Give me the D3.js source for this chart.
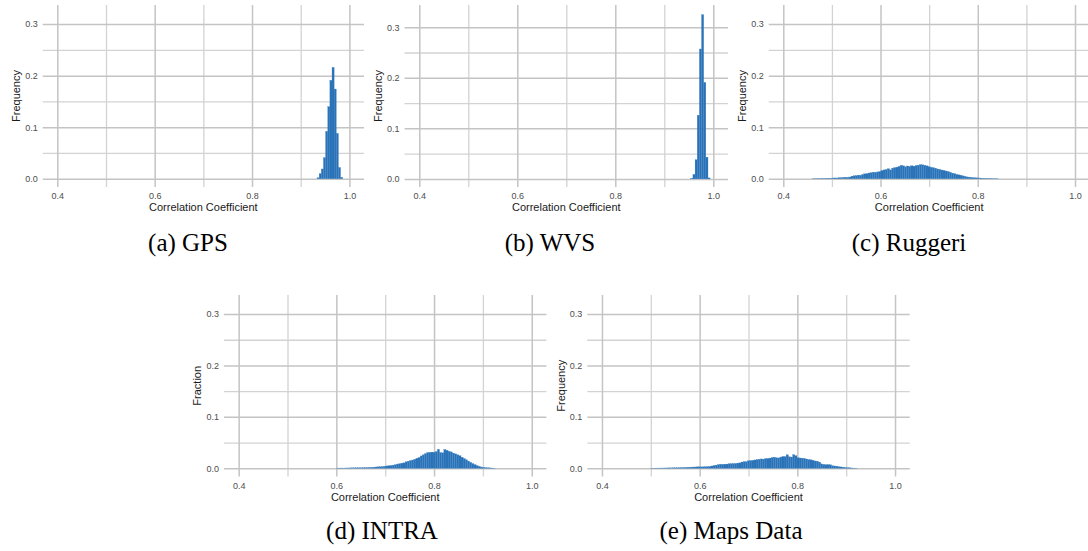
<!DOCTYPE html>
<html>
<head>
<meta charset="utf-8">
<script src="https://cdn.jsdelivr.net/npm/d3@7"></script>
<style>
  body { margin: 0; background: #fff; }
  svg { display: block; }
  .tick text { font-family: "Liberation Sans", Arial, sans-serif; }
</style>
</head>
<body>
<svg id="chart" width="1088" height="551"></svg>
<script>
// histogram bin width (same for every panel)
var binWidth = 0.0044;

// tick values
var xMajor = [0.4, 0.6, 0.8, 1.0];
var xMinor = [0.5, 0.7, 0.9];
var yMajor = [0.0, 0.1, 0.2, 0.3];
var yMinor = [0.05, 0.15, 0.25];

// (a) GPS
var gpsStart = 0.9335;
var gpsFreq = [0.002, 0.010, 0.019, 0.041, 0.092, 0.140, 0.191, 0.216, 0.174, 0.088, 0.022, 0.003];

// (b) WVS
var wvsStart = 0.954;
var wvsFreq = [0.001, 0.009, 0.038, 0.126, 0.257, 0.325, 0.191, 0.043, 0.002];

// (c) Ruggeri
var ruggeriStart = 0.46;
var ruggeriFreq = [
  0.0005, 0.0005, 0.0008, 0.0006, 0.0009, 0.0008, 0.0010, 0.0012, 0.0010, 0.0014,
  0.0016, 0.0015, 0.0022, 0.0020, 0.0028, 0.0030, 0.0027, 0.0034, 0.0050, 0.0058,
  0.0062, 0.0070, 0.0068, 0.0082, 0.0095, 0.0100, 0.0112, 0.0118, 0.0128, 0.0125,
  0.0132, 0.0140, 0.0160, 0.0172, 0.0180, 0.0195, 0.0172, 0.0205, 0.0215, 0.0225,
  0.0240, 0.0262, 0.0250, 0.0232, 0.0248, 0.0240, 0.0252, 0.0245, 0.0258, 0.0262,
  0.0275, 0.0270, 0.0262, 0.0250, 0.0235, 0.0222, 0.0215, 0.0205, 0.0190, 0.0182,
  0.0170, 0.0162, 0.0150, 0.0140, 0.0125, 0.0108, 0.0100, 0.0085, 0.0075, 0.0068,
  0.0055, 0.0045, 0.0035, 0.0032, 0.0025, 0.0020, 0.0018, 0.0015, 0.0014, 0.0012,
  0.0010, 0.0009, 0.0008, 0.0008, 0.0006, 0.0005, 0.0004
];

// (d) INTRA
var intraStart = 0.60;
var intraFreq = [
  0.0004, 0.0004, 0.0005, 0.0004, 0.0006, 0.0006, 0.0007, 0.0008, 0.0008, 0.0009,
  0.0010, 0.0010, 0.0012, 0.0013, 0.0014, 0.0016, 0.0018, 0.0021, 0.0025, 0.0028,
  0.0030, 0.0033, 0.0038, 0.0045, 0.0050, 0.0055, 0.0062, 0.0070, 0.0082, 0.0088,
  0.0098, 0.0105, 0.0125, 0.0138, 0.0150, 0.0160, 0.0175, 0.0195, 0.0210, 0.0240,
  0.0262, 0.0285, 0.0305, 0.0310, 0.0315, 0.0312, 0.0325, 0.0370, 0.0305, 0.0300,
  0.0365, 0.0350, 0.0330, 0.0318, 0.0295, 0.0280, 0.0262, 0.0245, 0.0215, 0.0190,
  0.0165, 0.0140, 0.0115, 0.0092, 0.0072, 0.0052, 0.0038, 0.0025, 0.0018, 0.0012,
  0.0010, 0.0007, 0.0005, 0.0003
];

// (e) Maps Data
var mapsStart = 0.50;
var mapsFreq = [
  0.0003, 0.0003, 0.0004, 0.0004, 0.0005, 0.0005, 0.0006, 0.0006, 0.0008, 0.0007,
  0.0009, 0.0010, 0.0010, 0.0012, 0.0013, 0.0015, 0.0017, 0.0020, 0.0022, 0.0024,
  0.0025, 0.0027, 0.0028, 0.0026, 0.0029, 0.0030, 0.0032, 0.0036, 0.0045, 0.0056,
  0.0062, 0.0072, 0.0078, 0.0076, 0.0080, 0.0082, 0.0088, 0.0090, 0.0092, 0.0094,
  0.0100, 0.0105, 0.0122, 0.0130, 0.0128, 0.0145, 0.0150, 0.0155, 0.0162, 0.0170,
  0.0175, 0.0182, 0.0178, 0.0188, 0.0192, 0.0198, 0.0210, 0.0215, 0.0205, 0.0200,
  0.0218, 0.0230, 0.0228, 0.0262, 0.0222, 0.0218, 0.0265, 0.0245, 0.0205, 0.0200,
  0.0195, 0.0192, 0.0180, 0.0170, 0.0165, 0.0155, 0.0142, 0.0138, 0.0120, 0.0085,
  0.0075, 0.0070, 0.0072, 0.0068, 0.0050, 0.0045, 0.0042, 0.0030, 0.0026, 0.0022,
  0.0015, 0.0012, 0.0009, 0.0006, 0.0004, 0.0003
];

var panels = [
  { caption: "(a) GPS",       ylab: "Frequency", start: gpsStart,     freq: gpsFreq,     left: 42.7,  right: 364,   top: 5,   bottom: 187,   ymax: 0.337, capX: 188, capY: 251 },
  { caption: "(b) WVS",       ylab: "Frequency", start: wvsStart,     freq: wvsFreq,     left: 404.6, right: 728,   top: 5,   bottom: 187,   ymax: 0.344, capX: 550, capY: 251 },
  { caption: "(c) Ruggeri",   ylab: "Frequency", start: ruggeriStart, freq: ruggeriFreq, left: 768.7, right: 1089.6, top: 5,  bottom: 187,   ymax: 0.337, capX: 909, capY: 251 },
  { caption: "(d) INTRA",     ylab: "Fraction",  start: intraStart,   freq: intraFreq,   left: 224,   right: 546.4, top: 295, bottom: 476.5, ymax: 0.337, capX: 382, capY: 539 },
  { caption: "(e) Maps Data", ylab: "Frequency", start: mapsStart,    freq: mapsFreq,    left: 587.3, right: 909.7, top: 295, bottom: 476.5, ymax: 0.337, capX: 731, capY: 539 }
];

var svg = d3.select("#chart");
var barColor = "#2a72b7";

function styleGrid(sel, color, width) {
  sel.select(".domain").remove();
  sel.selectAll("line").attr("stroke", color).attr("stroke-width", width);
}

panels.forEach(function (p) {
  var x = d3.scaleLinear().domain([0.37, 1.03]).range([p.left, p.right]);
  var y = d3.scaleLinear().domain([-0.016, p.ymax]).range([p.bottom, p.top]);
  var h = p.bottom - p.top, w = p.right - p.left;
  var g = svg.append("g");

  // minor grid
  g.append("g").attr("transform", "translate(0," + p.bottom + ")")
    .call(d3.axisBottom(x).tickValues(xMinor).tickSize(-h).tickFormat(""))
    .call(styleGrid, "#d3d3d3", 1.3);
  g.append("g").attr("transform", "translate(" + p.left + ",0)")
    .call(d3.axisLeft(y).tickValues(yMinor).tickSize(-w).tickFormat(""))
    .call(styleGrid, "#d3d3d3", 1.3);

  // major grid
  g.append("g").attr("transform", "translate(0," + p.bottom + ")")
    .call(d3.axisBottom(x).tickValues(xMajor).tickSize(-h).tickFormat(""))
    .call(styleGrid, "#c4c4c4", 1.5);
  g.append("g").attr("transform", "translate(" + p.left + ",0)")
    .call(d3.axisLeft(y).tickValues(yMajor).tickSize(-w).tickFormat(""))
    .call(styleGrid, "#c4c4c4", 1.5);

  // bars
  g.append("g").selectAll("rect")
    .data(p.freq)
    .enter()
    .append("rect")
    .attr("x", function (d, i) { return x(p.start + i * binWidth); })
    .attr("width", function (d, i) { return x(p.start + (i + 1) * binWidth) - x(p.start + i * binWidth); })
    .attr("y", function (d) { return y(d); })
    .attr("height", function (d) { return y(0) - y(d); })
    .attr("fill", barColor)
    .attr("stroke", "#3b80c2")
    .attr("stroke-width", 0.25);

  // tick labels
  g.append("g").attr("transform", "translate(0," + (p.bottom + 3) + ")")
    .call(d3.axisBottom(x).tickValues(xMajor).tickSize(0).tickFormat(d3.format(".1f")))
    .call(function (s) {
      s.select(".domain").remove();
      s.selectAll("text").attr("font-size", 9).attr("fill", "#4d4d4d");
    });
  g.append("g").attr("transform", "translate(" + (p.left - 2) + ",0)")
    .call(d3.axisLeft(y).tickValues(yMajor).tickSize(0).tickFormat(d3.format(".1f")))
    .call(function (s) {
      s.select(".domain").remove();
      s.selectAll("text").attr("font-size", 9).attr("fill", "#4d4d4d");
    });

  // axis titles
  g.append("text")
    .attr("x", (p.left + p.right) / 2)
    .attr("y", p.bottom + 24)
    .attr("text-anchor", "middle")
    .attr("font-family", "Liberation Sans, Arial, sans-serif")
    .attr("font-size", 11)
    .attr("fill", "#1a1a1a")
    .text("Correlation Coefficient");
  g.append("text")
    .attr("transform", "translate(" + (p.left - 26.5) + "," + ((p.top + p.bottom) / 2) + ") rotate(-90)")
    .attr("dy", "0.35em")
    .attr("text-anchor", "middle")
    .attr("font-family", "Liberation Sans, Arial, sans-serif")
    .attr("font-size", 11)
    .attr("fill", "#1a1a1a")
    .text(p.ylab);

  // sub-figure caption
  svg.append("text")
    .attr("x", p.capX)
    .attr("y", p.capY)
    .attr("text-anchor", "middle")
    .attr("font-family", "Liberation Serif, Times New Roman, serif")
    .attr("font-size", 25)
    .attr("fill", "#000")
    .text(p.caption);
});
</script>
</body>
</html>
